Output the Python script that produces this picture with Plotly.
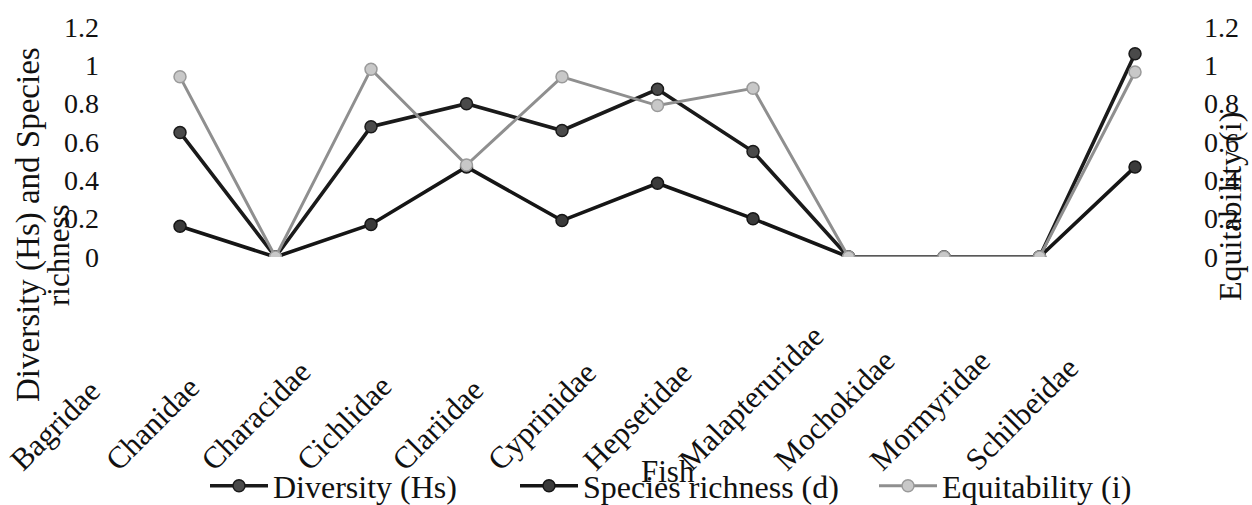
import plotly.graph_objects as go

families = ["Bagridae", "Chanidae", "Characidae", "Cichlidae", "Clariidae", "Cyprinidae",
            "Hepsetidae", "Malapteruridae", "Mochokidae", "Mormyridae", "Schilbeidae"]
diversity_hs = [0.65, 0.0, 0.68, 0.80, 0.66, 0.875, 0.55, 0.0, 0.0, 0.0, 1.06]
richness_d = [0.16, 0.0, 0.17, 0.47, 0.19, 0.385, 0.20, 0.0, 0.0, 0.0, 0.47]
equitability_i = [0.94, 0.0, 0.98, 0.48, 0.94, 0.79, 0.88, 0.0, 0.0, 0.0, 0.965]
y_ticks = [0, 0.2, 0.4, 0.6, 0.8, 1, 1.2]

FONT = "Liberation Serif, Times New Roman, serif"
INK = "#111111"

fig = go.Figure()
fig.add_trace(go.Scatter(
    x=families, y=diversity_hs, name="Diversity (Hs)", mode="lines+markers",
    legend="legend",
    line=dict(color="#1a1a1a", width=3.6),
    marker=dict(size=12, color="#4a4a4a", line=dict(color="#1a1a1a", width=1.5)),
))
fig.add_trace(go.Scatter(
    x=families, y=richness_d, name="Species richness (d)", mode="lines+markers",
    legend="legend2",
    line=dict(color="#151515", width=3.6),
    marker=dict(size=12, color="#3a3a3a", line=dict(color="#151515", width=1.5)),
))
fig.add_trace(go.Scatter(
    x=families, y=equitability_i, name="Equitability (i)", mode="lines+markers",
    yaxis="y2", legend="legend3",
    line=dict(color="#8f8f8f", width=3),
    marker=dict(size=12, color="#c8c8c8", line=dict(color="#9a9a9a", width=1.5)),
))

L, R, T, B = 110, 57, 27, 248
W, H = 1252, 505
pw = W - L - R
ph = H - T - B


def px_x(px):
    return (px - L) / pw


def px_y(py):
    return (H - B - py) / ph


def legend_at(x_px):
    return dict(
        orientation="h", xref="container", yref="container",
        x=x_px / W, y=(H - 486) / H, xanchor="left", yanchor="middle",
        font=dict(size=32, family=FONT, color=INK), itemwidth=58,
        bgcolor="rgba(0,0,0,0)",
    )


fig.update_layout(
    width=W, height=H,
    margin=dict(l=L, r=R, t=T, b=B, autoexpand=False),
    paper_bgcolor="white", plot_bgcolor="white",
    font=dict(family=FONT, color=INK, size=28),
    showlegend=True,
    legend=legend_at(205),
    legend2=legend_at(515),
    legend3=legend_at(874),
    xaxis=dict(
        type="category", range=[-0.733, 10.628],
        tickangle=-45, tickfont=dict(size=31, color=INK),
        ticklabelposition="inside", ticklabeloverflow="allow",
        ticklabelshift=-168, ticklabelstandoff=-229,
        showgrid=False, showline=False, zeroline=False, ticks="",
    ),
    yaxis=dict(
        range=[0, 1.2], tickvals=y_ticks, tickfont=dict(size=28, color=INK),
        ticklabelstandoff=10,
        showgrid=False, showline=False, zeroline=False, ticks="",
    ),
    yaxis2=dict(
        range=[0, 1.2], tickvals=y_ticks, tickfont=dict(size=28, color=INK),
        overlaying="y", side="right", ticklabelstandoff=8,
        showgrid=False, showline=False, zeroline=False, ticks="",
    ),
    annotations=[
        dict(text="Diversity (Hs) and Species", textangle=-90,
             xref="paper", yref="paper", x=px_x(28), y=px_y(225),
             xanchor="center", yanchor="middle",
             showarrow=False, font=dict(size=33, family=FONT, color=INK)),
        dict(text="richness", textangle=-90,
             xref="paper", yref="paper", x=px_x(58), y=px_y(255),
             xanchor="center", yanchor="middle",
             showarrow=False, font=dict(size=31, family=FONT, color=INK)),
        dict(text="Equitability (i)", textangle=-90,
             xref="paper", yref="paper", x=px_x(1230), y=px_y(207),
             xanchor="center", yanchor="middle",
             showarrow=False, font=dict(size=32, family=FONT, color=INK)),
        dict(text="Fish", xref="paper", yref="paper",
             x=px_x(668), y=px_y(471), xanchor="center", yanchor="middle",
             showarrow=False, font=dict(size=31, family=FONT, color=INK)),
    ],
)

fig.write_html("out.html", config={"displayModeBar": False},
               post_script="document.body.style.margin='0';")
